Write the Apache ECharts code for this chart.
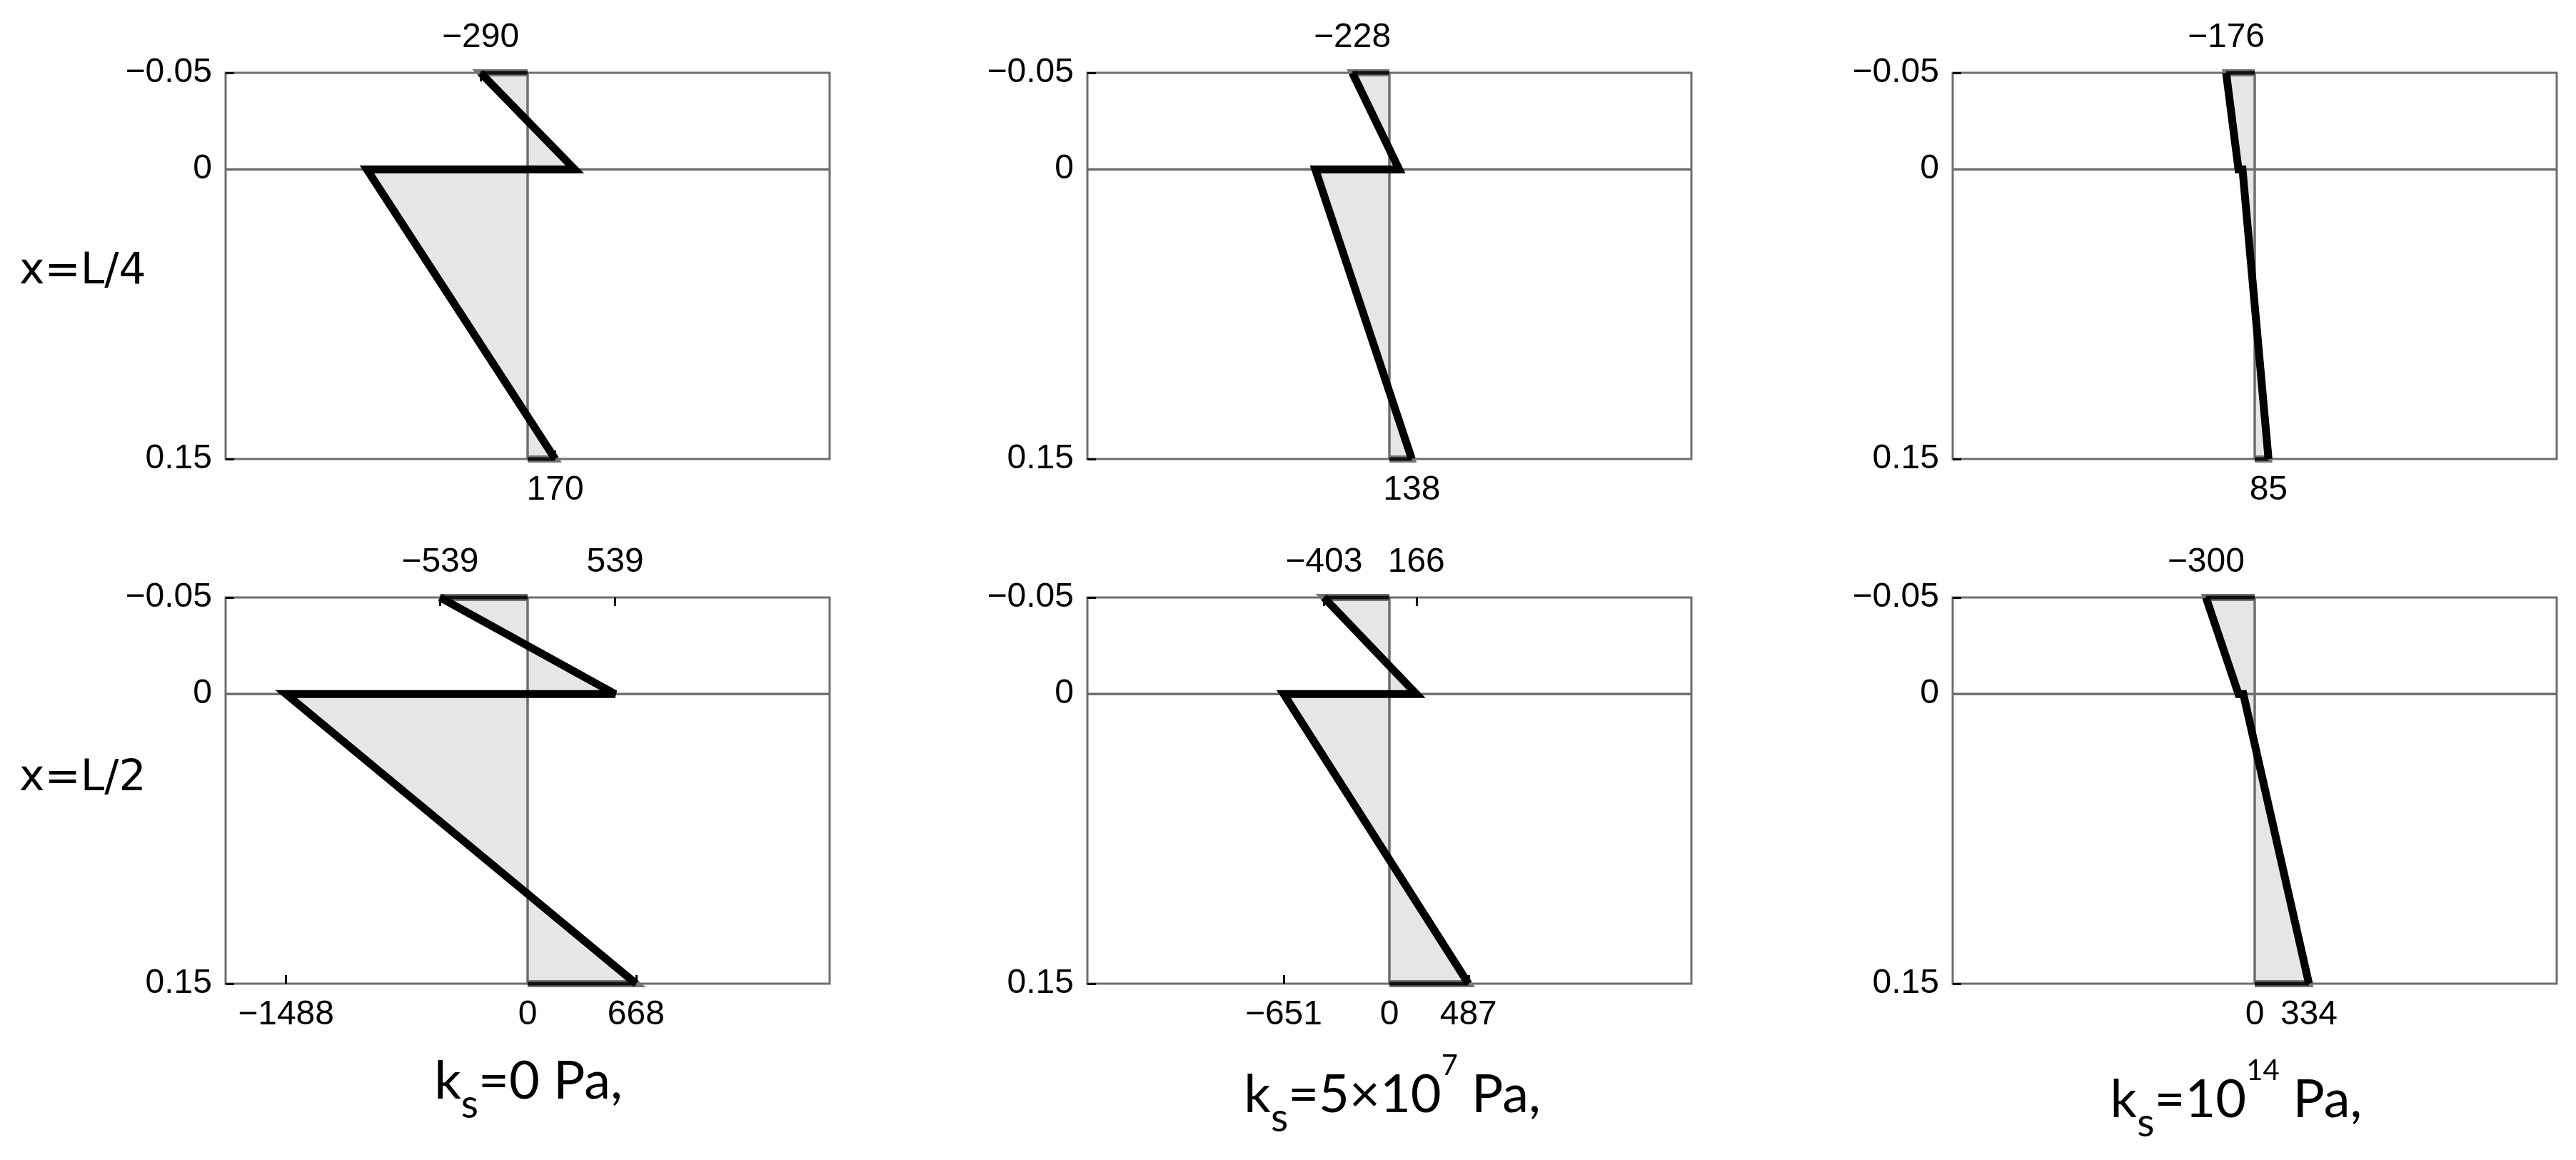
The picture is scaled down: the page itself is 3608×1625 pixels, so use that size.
<!DOCTYPE html>
<html><head><meta charset="utf-8">
<script src="https://cdn.jsdelivr.net/npm/echarts@6/dist/echarts.min.js"></script>
<style>html,body{margin:0;padding:0;background:#fff;}#c{width:3608px;height:1625px;}</style>
</head><body><div id="c"></div>
<script>
// ---------- data ----------
const rowLabels = ['x=L/4', 'x=L/2'];
const depthTop = -0.05, depthInterface = 0, depthBottom = 0.15;
const yTickValues = [-0.05, 0, 0.15];
// stress (Pa) at y=-0.05 (top of upper layer)
const upperTop = [[-290, -228, -176], [-539, -403, -300]];
// stress at y=0 (bottom of upper layer)
const upperBottom = [[290, 60, -100], [539, 166, -100]];
// stress at y=0 (top of lower layer)
const lowerTop = [[-990, -456, -75], [-1488, -651, -70]];
// stress at y=0.15 (bottom of lower layer)
const lowerBottom = [[170, 138, 85], [668, 487, 334]];
// labelled values on the top and bottom axes
const topTickLabels = [[[-290], [-228], [-176]], [[-539, 539], [-403, 166], [-300]]];
const bottomTickLabels = [[[170], [138], [85]], [[-1488, 0, 668], [-651, 0, 487], [0, 334]]];
const stressRange = [-1860, 1860];
const ksTitles = [
  '{m|k}{sub|s}{m|=0 Pa,}',
  '{m|k}{sub|s}{m|=5×10}{sup|7}{m| Pa,}',
  '{m|k}{sub|s}{m|=10}{sup2|14}{m| Pa,}'
];

// ---------- layout ----------
const colLeft = [316, 1523, 2735];
const rowTop = [102, 837];
const boxW = 846, boxH = 541;
const titleX = [740, 1950, 3132];
const titleY = [1515, 1534, 1541];
const rowLabelY = [381, 1091];

const GRAY = '#6e6e6e';
const fmt = v => (v < 0 ? '\u2212' : '') + String(Math.abs(v));
const tickFont = 'Liberation Sans, Arial, sans-serif';

const grid = [], xAxis = [], yAxis = [], series = [];
for (let r = 0; r < 2; r++) {
  for (let c = 0; c < 3; c++) {
    const k = r * 3 + c;
    grid.push({left: colLeft[c], top: rowTop[r], width: boxW, height: boxH,
      show: true, borderColor: GRAY, borderWidth: 3, containLabel: false, outerBoundsMode: 'none'});
    const baseX = {gridIndex: k, type: 'value', min: stressRange[0], max: stressRange[1],
      axisLine: {show: false, onZero: false}, splitLine: {show: false}};
    xAxis.push(Object.assign({}, baseX, {position: 'bottom',
      axisTick: {show: true, inside: true, length: 12, customValues: bottomTickLabels[r][c], lineStyle: {color: '#000', width: 3}},
      axisLabel: {show: true, customValues: bottomTickLabels[r][c], formatter: fmt, margin: 20,
        fontSize: 48, fontFamily: tickFont, color: '#000'}}));
    xAxis.push(Object.assign({}, baseX, {position: 'top',
      axisTick: {show: true, inside: true, length: 12, customValues: topTickLabels[r][c], lineStyle: {color: '#000', width: 3}},
      axisLabel: {show: true, customValues: topTickLabels[r][c], formatter: fmt, margin: 25,
        fontSize: 48, fontFamily: tickFont, color: '#000'}}));
    yAxis.push({gridIndex: k, type: 'value', inverse: true, min: depthTop, max: depthBottom, position: 'left',
      axisLine: {show: false, onZero: false}, splitLine: {show: false},
      axisTick: {show: true, inside: true, length: 12, customValues: yTickValues, lineStyle: {color: '#000', width: 3}},
      axisLabel: {show: true, customValues: yTickValues, formatter: fmt, margin: 19,
        fontSize: 48, fontFamily: tickFont, color: '#000', showMinLabel: true, showMaxLabel: true}});
    const xi = 2 * k, yi = k;
    const t1 = upperTop[r][c], t2 = upperBottom[r][c], b1 = lowerTop[r][c], b2 = lowerBottom[r][c];
    // filled stress blocks
    series.push({type: 'custom', xAxisIndex: xi, yAxisIndex: yi, silent: true, clip: false, z: 1,
      data: [[0, depthInterface]],
      renderItem: (params, api) => {
        if (params.dataIndex !== 0) return;
        const up = [[0, depthTop], [t1, depthTop], [t2, depthInterface], [0, depthInterface]].map(p => api.coord(p));
        const lo = [[0, depthInterface], [b1, depthInterface], [b2, depthBottom], [0, depthBottom]].map(p => api.coord(p));
        return {type: 'group', children: [
          {type: 'polygon', shape: {points: up}, style: {fill: '#e6e6e6'}},
          {type: 'polygon', shape: {points: lo}, style: {fill: '#e6e6e6'}}
        ]};
      }});
    const lineBase = {type: 'line', xAxisIndex: xi, yAxisIndex: yi, showSymbol: false, symbol: 'none',
      silent: true, clip: false, animation: false};
    // zero reference lines
    series.push(Object.assign({}, lineBase, {z: 2, data: [[stressRange[0], 0], [stressRange[1], 0]],
      lineStyle: {color: GRAY, width: 3.5}}));
    series.push(Object.assign({}, lineBase, {z: 2, data: [[0, depthTop], [0, depthBottom]],
      lineStyle: {color: GRAY, width: 3.5}}));
    // gray outline of the blocks
    series.push(Object.assign({}, lineBase, {z: 3,
      data: [[0, depthTop], [t1, depthTop], [t2, depthInterface], [b1, depthInterface], [b2, depthBottom], [0, depthBottom]],
      lineStyle: {color: '#737373', width: 10, join: 'miter', miterLimit: 3}}));
    // black horizontal edges (thin)
    series.push(Object.assign({}, lineBase, {z: 4,
      data: [[0, depthTop], [t1, depthTop], null, [t2, depthInterface], [b1, depthInterface], null, [b2, depthBottom], [0, depthBottom]],
      connectNulls: false, lineStyle: {color: '#111', width: 5}}));
    // black stress profile
    series.push(Object.assign({}, lineBase, {z: 5,
      data: [[t1, depthTop], [t2, depthInterface], [b1, depthInterface], [b2, depthBottom]],
      lineStyle: {color: '#000', width: 11, join: 'miter', miterLimit: 3}}));
  }
}

const graphic = [];
rowLabels.forEach((t, i) => {
  graphic.push({type: 'text', x: 27, y: rowLabelY[i], silent: true,
    style: {text: t, fontSize: 60, fontFamily: 'DejaVu Sans', fill: '#000', align: 'left', verticalAlign: 'middle'}});
});
ksTitles.forEach((t, i) => {
  graphic.push({type: 'text', x: titleX[i], y: titleY[i], silent: true,
    style: {text: t, align: 'center', verticalAlign: 'middle', fill: '#000',
      rich: {
        m: {fontSize: 74, fontFamily: 'Lato', fill: '#000', lineHeight: 122},
        sub: {fontSize: 56, fontFamily: 'Lato', fill: '#000', lineHeight: 56, verticalAlign: 'bottom'},
        sup: {fontSize: 40, fontFamily: 'Lato', fill: '#000', lineHeight: 48, verticalAlign: 'top'},
        sup2: {fontSize: 40, fontFamily: 'Lato', fill: '#000', lineHeight: 40, verticalAlign: 'top'}
      }}});
});

const chart = echarts.init(document.getElementById('c'), null, {renderer: 'canvas'});
chart.setOption({animation: false, backgroundColor: '#fff', grid, xAxis, yAxis, series, graphic});
</script></body></html>
